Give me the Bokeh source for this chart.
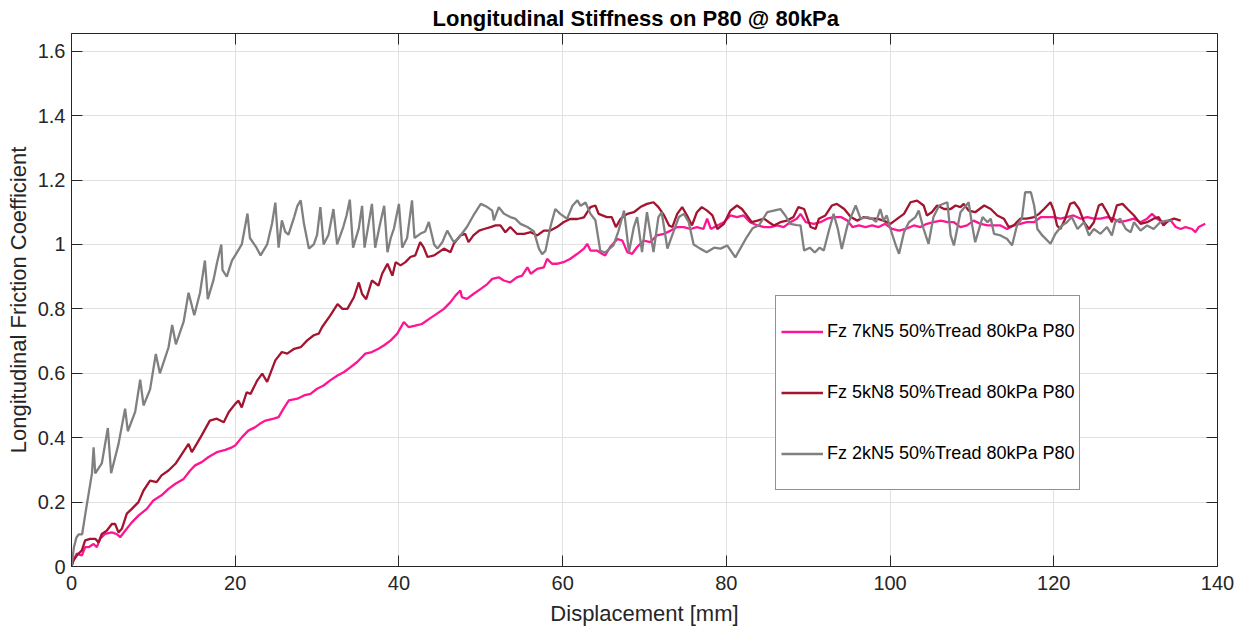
from bokeh.plotting import figure
from bokeh.models import (Range1d, LinearAxis, FixedTicker, PrintfTickFormatter, Legend, LegendItem,
                          CustomJSTickFormatter)
from bokeh.embed import file_html
from bokeh.resources import INLINE

title_text = "Longitudinal Stiffness on P80 @ 80kPa"
x_label = "Displacement [mm]"
y_label = "Longitudinal Friction Coefficient"
x_ticks = [0, 20, 40, 60, 80, 100, 120, 140]
y_ticks = [0, 0.2, 0.4, 0.6, 0.8, 1.0, 1.2, 1.4, 1.6]

labels = ["Fz 7kN5 50%Tread 80kPa P80", "Fz 5kN8 50%Tread 80kPa P80", "Fz 2kN5 50%Tread 80kPa P80"]
colors = ["#ff1493", "#a2142f", "#808080"]

# Fz 7kN5
x_7kn5 = [0, 0.24, 0.65, 1.26, 1.67, 2.08, 2.69, 3.1, 3.5, 4.1, 4.93, 5.5, 5.95, 6.55, 7.37, 8.18, 9.2, 10.0,
          11.0, 11.85, 12.7, 13.7, 14.5, 15.1, 15.9, 16.75, 17.75, 18.8, 19.6, 20.0, 20.8, 21.6, 22.4, 23.0,
          23.7, 24.7, 25.3, 25.9, 26.55, 27.6, 28.4, 29.2, 30.0, 30.8, 31.6, 32.5, 33.3, 34.1, 34.9, 35.9,
          36.7, 37.5, 38.2, 39.0, 39.8, 40.6, 41.2, 42.0, 42.8, 43.7, 44.7, 45.5, 46.3, 46.9, 47.5, 47.7,
          48.3, 49.1, 50.0, 50.8, 51.4, 52.2, 52.8, 53.6, 54.4, 55.05, 55.7, 56.1, 56.9, 57.7, 58.1, 58.7,
          59.3, 60.1, 60.9, 61.8, 62.6, 63.0, 63.4, 64.2, 64.8, 65.2, 65.8, 66.7, 67.3, 67.9, 68.5, 69.1,
          69.9, 70.7, 71.5, 72.4, 73.2, 74.0, 74.8, 75.6, 76.4, 77.2, 77.65, 78.1, 78.9, 79.7, 80.5, 81.3,
          82.1, 82.9, 83.8, 84.6, 85.4, 86.2, 87.0, 87.8, 88.6, 89.06, 89.7, 90.7, 91.5, 92.3, 93.1, 94.0,
          94.8, 95.4, 96.2, 97.0, 97.8, 98.6, 99.4, 100.25, 101.1, 101.9, 102.9, 103.7, 104.5, 105.3,
          106.2, 107.0, 107.8, 108.6, 109.4, 110.2, 111.05, 111.9, 112.7, 113.5, 114.3, 115.1, 115.9,
          116.7, 117.6, 118.4, 119.2, 120.0, 120.8, 121.6, 122.4, 123.3, 124.1, 124.9, 125.7, 126.5,
          127.3, 128.1, 128.9, 129.8, 130.6, 131.4, 132.0, 132.6, 133.4, 134.3, 134.9, 135.5, 136.1,
          136.9, 137.3, 137.7, 138.5]
y_7kn5 = [0, 0.019, 0.04, 0.034, 0.06, 0.06, 0.07, 0.06, 0.086, 0.101, 0.106, 0.101, 0.091, 0.111, 0.137,
          0.158, 0.179, 0.205, 0.221, 0.241, 0.257, 0.272, 0.298, 0.314, 0.324, 0.34, 0.355, 0.362, 0.37,
          0.376, 0.401, 0.422, 0.432, 0.443, 0.453, 0.459, 0.464, 0.49, 0.516, 0.521, 0.531, 0.536, 0.552,
          0.562, 0.578, 0.593, 0.604, 0.619, 0.635, 0.661, 0.666, 0.676, 0.687, 0.702, 0.723, 0.759, 0.743,
          0.748, 0.753, 0.769, 0.786, 0.8, 0.821, 0.841, 0.857, 0.836, 0.831, 0.846, 0.862, 0.877, 0.893,
          0.898, 0.888, 0.882, 0.898, 0.903, 0.929, 0.909, 0.924, 0.929, 0.955, 0.94, 0.94, 0.945, 0.955,
          0.971, 0.987, 1.002, 0.981, 0.981, 0.971, 0.966, 0.992, 1.017, 1.012, 0.976, 0.971, 0.992, 1.012,
          1.007, 1.028, 1.033, 1.043, 1.054, 1.054, 1.048, 1.054, 1.048, 1.08, 1.048, 1.059, 1.069, 1.09,
          1.085, 1.09, 1.069, 1.059, 1.054, 1.054, 1.059, 1.054, 1.069, 1.08, 1.095, 1.069, 1.064, 1.069,
          1.08, 1.085, 1.085, 1.074, 1.054, 1.059, 1.054, 1.059, 1.054, 1.064, 1.048, 1.043, 1.048, 1.059,
          1.054, 1.064, 1.069, 1.074, 1.069, 1.069, 1.054, 1.059, 1.074, 1.064, 1.059, 1.059, 1.059, 1.048,
          1.059, 1.064, 1.069, 1.069, 1.085, 1.085, 1.085, 1.08, 1.085, 1.09, 1.08, 1.085, 1.08, 1.08,
          1.085, 1.08, 1.069, 1.074, 1.08, 1.069, 1.08, 1.095, 1.08, 1.069, 1.074, 1.054, 1.048, 1.054,
          1.048, 1.038, 1.054, 1.064]

# Fz 5kN8
x_5kn8 = [0, 0.24, 0.65, 1.26, 1.67, 2.28, 2.9, 3.3, 3.7, 4.3, 4.93, 5.33, 5.74, 6.15, 6.76, 7.37, 8.18, 8.8,
          9.6, 10.4, 11.0, 11.85, 12.7, 13.5, 14.3, 14.7, 15.3, 15.9, 16.9, 17.75, 18.6, 19.2, 20.0, 20.4,
          20.8, 21.4, 21.87, 22.7, 23.3, 23.9, 24.9, 25.7, 26.35, 27.2, 28.0, 28.8, 29.6, 30.2, 30.6, 31.6,
          32.5, 33.1, 33.7, 34.5, 35.1, 35.5, 36.0, 36.7, 37.5, 37.95, 38.6, 39.2, 39.6, 40.2, 40.8, 41.4,
          42.0, 42.6, 43.0, 43.5, 44.3, 45.5, 46.3, 46.7, 47.5, 48.1, 48.5, 49.1, 49.8, 50.4, 51.2, 51.8,
          52.4, 53.0, 53.6, 54.4, 55.3, 56.1, 56.9, 57.7, 58.5, 59.3, 60.1, 60.9, 61.8, 62.6, 63.4, 64.0,
          64.4, 65.4, 66.0, 66.5, 67.1, 67.9, 68.7, 69.5, 70.3, 71.1, 71.7, 72.4, 73.0, 73.4, 74.0, 74.6,
          75.2, 75.8, 76.4, 77.0, 77.65, 78.3, 78.9, 79.7, 80.5, 81.3, 81.9, 82.5, 83.1, 83.8, 84.6, 85.2,
          85.8, 86.6, 87.4, 88.2, 88.8, 89.5, 90.3, 90.9, 91.3, 92.1, 92.9, 93.5, 94.4, 95.2, 96.0, 96.8,
          97.6, 98.4, 99.2, 100.05, 100.9, 101.7, 102.5, 103.3, 104.1, 104.5, 105.1, 105.75, 106.6, 107.4,
          108.0, 108.6, 109.0, 109.6, 110.4, 111.5, 112.3, 113.1, 113.9, 114.5, 115.1, 115.9, 116.7, 117.6,
          118.2, 118.8, 119.6, 120.0, 120.4, 120.8, 121.4, 122.0, 122.5, 123.1, 123.7, 124.3, 124.9, 125.5,
          125.9, 126.5, 127.1, 127.7, 128.4, 129.0, 129.8, 130.6, 131.4, 132.2, 132.8, 133.4, 134.0, 134.7,
          135.5]
y_5kn8 = [0, 0.019, 0.034, 0.05, 0.081, 0.086, 0.086, 0.075, 0.101, 0.111, 0.132, 0.132, 0.106, 0.117,
          0.164, 0.179, 0.2, 0.236, 0.267, 0.262, 0.283, 0.298, 0.319, 0.35, 0.381, 0.355, 0.381, 0.407,
          0.453, 0.459, 0.448, 0.479, 0.505, 0.515, 0.494, 0.541, 0.536, 0.578, 0.599, 0.573, 0.64, 0.666,
          0.661, 0.676, 0.681, 0.702, 0.718, 0.723, 0.743, 0.779, 0.815, 0.8, 0.8, 0.836, 0.882, 0.846, 0.83,
          0.888, 0.872, 0.909, 0.94, 0.903, 0.945, 0.935, 0.945, 0.961, 0.966, 1.007, 0.992, 0.961, 0.966,
          0.987, 0.976, 1.002, 1.028, 1.033, 1.007, 1.028, 1.043, 1.048, 1.054, 1.059, 1.059, 1.038, 1.054,
          1.033, 1.033, 1.038, 1.028, 1.043, 1.043, 1.054, 1.069, 1.079, 1.079, 1.084, 1.116, 1.121, 1.095,
          1.085, 1.085, 1.054, 1.08, 1.095, 1.1, 1.116, 1.126, 1.131, 1.116, 1.09, 1.059, 1.054, 1.095,
          1.116, 1.09, 1.059, 1.1, 1.116, 1.105, 1.09, 1.048, 1.064, 1.105, 1.121, 1.11, 1.09, 1.069, 1.074,
          1.08, 1.069, 1.059, 1.069, 1.074, 1.085, 1.116, 1.11, 1.054, 1.048, 1.08, 1.09, 1.121, 1.126, 1.11,
          1.085, 1.074, 1.085, 1.08, 1.08, 1.074, 1.064, 1.08, 1.095, 1.131, 1.136, 1.121, 1.09, 1.1, 1.121,
          1.11, 1.11, 1.121, 1.116, 1.126, 1.105, 1.1, 1.121, 1.11, 1.09, 1.08, 1.054, 1.059, 1.08, 1.08,
          1.085, 1.095, 1.11, 1.131, 1.105, 1.059, 1.048, 1.08, 1.126, 1.131, 1.11, 1.069, 1.048, 1.069,
          1.121, 1.126, 1.1, 1.069, 1.121, 1.126, 1.11, 1.09, 1.064, 1.069, 1.08, 1.085, 1.059, 1.074, 1.08,
          1.074]

# Fz 2kN5
x_2kn5 = [0, 0.3, 0.6, 0.9, 1.3, 1.7, 2.1, 2.5, 2.7, 2.9, 3.7, 4.44, 4.84, 5.74, 6.55, 6.88, 7.78, 8.39, 8.8,
          9.6, 10.3, 10.8, 11.85, 12.3, 12.75, 13.7, 14.3, 15.0, 15.7, 16.3, 16.65, 17.35, 17.75, 18.3,
          18.45, 18.97, 19.6, 20.0, 20.8, 21.5, 21.8, 22.6, 23.1, 23.9, 24.5, 24.9, 25.3, 25.7, 26.1, 26.5,
          27.2, 27.6, 28.0, 28.4, 29.0, 29.6, 30.0, 30.4, 30.8, 31.4, 32.0, 32.45, 33.2, 33.6, 34.0, 34.4,
          35.1, 35.5, 35.8, 36.3, 36.7, 37.1, 37.7, 38.2, 38.6, 39.0, 39.4, 40.0, 40.4, 41.0, 41.6, 41.9,
          42.6, 43.2, 43.65, 44.3, 44.7, 45.3, 45.9, 46.7, 47.3, 48.3, 49.1, 50.0, 50.8, 51.4, 51.6, 52.2,
          52.8, 53.6, 54.2, 54.85, 55.7, 56.5, 57.1, 57.5, 57.9, 58.5, 59.1, 59.7, 60.55, 61.2, 61.8, 62.2,
          62.8, 63.4, 64.0, 64.6, 65.2, 66.2, 66.8, 67.5, 68.1, 68.7, 69.1, 69.7, 70.3, 71.1, 71.7, 72.1,
          72.8, 73.4, 74.2, 74.8, 75.4, 76.0, 76.8, 77.6, 78.5, 79.3, 80.1, 81.1, 81.7, 82.5, 83.2, 84.0,
          85.0, 85.8, 86.6, 87.2, 87.8, 88.6, 89.06, 89.5, 90.2, 90.8, 91.4, 91.9, 92.5, 93.1, 93.6, 94.1,
          94.8, 95.8, 96.4, 97.2, 97.8, 98.3, 98.8, 99.2, 99.6, 100.05, 100.7, 101.1, 101.7, 102.3, 103.1,
          103.5, 104.1, 104.7, 105.3, 106.0, 107.0, 107.4, 107.8, 108.6, 109.6, 110.0, 110.4, 111.3, 111.9,
          112.3, 112.7, 113.5, 114.3, 114.9, 115.5, 116.1, 116.5, 117.2, 117.6, 118.0, 118.6, 119.6, 120.2,
          121.0, 121.6, 122.2, 122.9, 123.7, 124.3, 124.9, 125.7, 126.5, 127.1, 127.5, 128.1, 128.8, 129.4,
          129.8, 130.6, 131.4, 132.2, 133.0, 133.8, 134.5]
y_2kn5 = [0, 0.06, 0.09, 0.1, 0.1, 0.165, 0.227, 0.289, 0.37, 0.289, 0.32, 0.43, 0.29, 0.38, 0.49, 0.42,
          0.48, 0.58, 0.5, 0.55, 0.66, 0.6, 0.68, 0.75, 0.69, 0.76, 0.85, 0.78, 0.85, 0.95, 0.83, 0.89, 0.94,
          1.0, 0.92, 0.9, 0.95, 0.966, 1.0, 1.096, 1.02, 0.99, 0.966, 1.0, 1.065, 1.13, 0.99, 1.075, 1.04,
          1.03, 1.085, 1.12, 1.137, 1.064, 0.987, 1.0, 1.03, 1.116, 1.0, 1.03, 1.11, 1.0, 1.054, 1.09, 1.139,
          0.99, 1.05, 1.12, 0.99, 1.064, 1.126, 0.99, 1.064, 1.12, 0.976, 1.02, 1.05, 1.126, 0.99, 1.02,
          1.137, 1.02, 1.033, 1.04, 1.07, 1.0, 0.987, 1.007, 1.043, 1.007, 1.02, 1.054, 1.09, 1.126, 1.116,
          1.105, 1.075, 1.116, 1.096, 1.085, 1.08, 1.064, 1.054, 1.04, 0.987, 0.97, 0.98, 1.054, 1.11,
          1.095, 1.08, 1.12, 1.137, 1.12, 1.13, 1.095, 1.075, 0.98, 0.975, 0.997, 1.04, 1.105, 0.976, 1.054,
          1.085, 0.976, 1.1, 0.976, 1.085, 1.1, 0.987, 1.03, 1.085, 1.095, 1.07, 1.0, 0.987, 0.976, 0.99,
          0.987, 0.997, 0.96, 0.987, 1.023, 1.05, 1.06, 1.1, 1.105, 1.11, 1.09, 1.064, 1.06, 1.059, 0.981,
          0.99, 0.975, 0.99, 0.981, 1.04, 1.095, 1.05, 0.986, 1.06, 1.121, 1.08, 1.085, 1.08, 1.07, 1.11,
          1.074, 1.09, 1.048, 0.997, 0.971, 1.038, 1.069, 1.085, 1.105, 1.048, 1.002, 1.085, 1.121, 1.131,
          1.028, 0.997, 1.1, 1.131, 1.064, 1.007, 1.085, 1.069, 1.08, 1.033, 1.028, 1.017, 0.997, 1.059,
          1.08, 1.162, 1.162, 1.121, 1.048, 1.028, 1.002, 1.033, 1.059, 1.069, 1.085, 1.048, 1.069, 1.028,
          1.048, 1.033, 1.054, 1.028, 1.069, 1.08, 1.048, 1.038, 1.069, 1.043, 1.059, 1.048, 1.069, 1.074,
          1.074]

FONT = "Liberation Sans"
AX = "#262626"

p = figure(width=1243, height=631, output_backend="svg", toolbar_location=None,
           x_range=Range1d(0, 140), y_range=Range1d(0, 1.655),
           min_border_left=71, min_border_right=26, min_border_top=33, min_border_bottom=65,
           title=title_text, background_fill_color="white", border_fill_color="white")

p.title.align = "left"
p.title.offset = 361
p.title.text_font = FONT
p.title.text_font_size = "22px"
p.title.text_font_style = "bold"
p.title.text_color = "black"
p.title.standoff = 5

p.xaxis.ticker = FixedTicker(ticks=x_ticks)
p.yaxis.ticker = FixedTicker(ticks=y_ticks)
p.yaxis.formatter = PrintfTickFormatter(format="%g")
p.xaxis.axis_label = x_label
p.yaxis.axis_label = y_label

for ax in (p.xaxis[0], p.yaxis[0]):
    ax.major_tick_in = 11
    ax.major_tick_out = 0
    ax.minor_tick_line_color = None
    ax.axis_line_color = AX
    ax.major_tick_line_color = AX
    ax.major_label_text_color = AX
    ax.major_label_text_font = FONT
    ax.major_label_text_font_size = "20px"
    ax.axis_label_text_font = FONT
    ax.axis_label_text_font_size = "22px"
    ax.axis_label_text_font_style = "normal"
    ax.axis_label_text_color = AX

p.xaxis.major_label_standoff = 9
p.xaxis.axis_label_standoff = 8
p.yaxis.major_label_standoff = 6
p.yaxis.axis_label_standoff = 4

blank = CustomJSTickFormatter(code="return '';")
top = LinearAxis(ticker=FixedTicker(ticks=x_ticks), formatter=blank,
                 major_label_standoff=0, major_tick_in=11, major_tick_out=0,
                 minor_tick_line_color=None, axis_line_color=AX, major_tick_line_color=AX)
right = LinearAxis(ticker=FixedTicker(ticks=y_ticks), formatter=CustomJSTickFormatter(code="return '';"),
                   major_label_standoff=0, major_tick_in=11, major_tick_out=0,
                   minor_tick_line_color=None, axis_line_color=AX, major_tick_line_color=AX)
p.add_layout(top, "above")
p.add_layout(right, "right")

p.xgrid.ticker = FixedTicker(ticks=x_ticks)
p.ygrid.ticker = FixedTicker(ticks=y_ticks)
for g in (p.xgrid[0], p.ygrid[0]):
    g.grid_line_color = "#e1e1e1"
    g.grid_line_width = 1

r1 = p.line(x_7kn5, y_7kn5, line_color=colors[0], line_width=2.3)
r2 = p.line(x_5kn8, y_5kn8, line_color=colors[1], line_width=2.3)
r3 = p.line(x_2kn5, y_2kn5, line_color=colors[2], line_width=2.3)

legend = Legend(items=[LegendItem(label=labels[0], renderers=[r1]),
                       LegendItem(label=labels[1], renderers=[r2]),
                       LegendItem(label=labels[2], renderers=[r3])],
                location=(704, 76), orientation="vertical",
                border_line_color=AX, border_line_width=1,
                background_fill_color="white", background_fill_alpha=1.0,
                padding=5, spacing=0, margin=0,
                label_height=61, glyph_height=61, glyph_width=42, label_standoff=4,
                label_text_font=FONT, label_text_font_size="18px", label_text_color="black")
p.add_layout(legend)

open("out.html", "w").write(file_html(p, INLINE))
